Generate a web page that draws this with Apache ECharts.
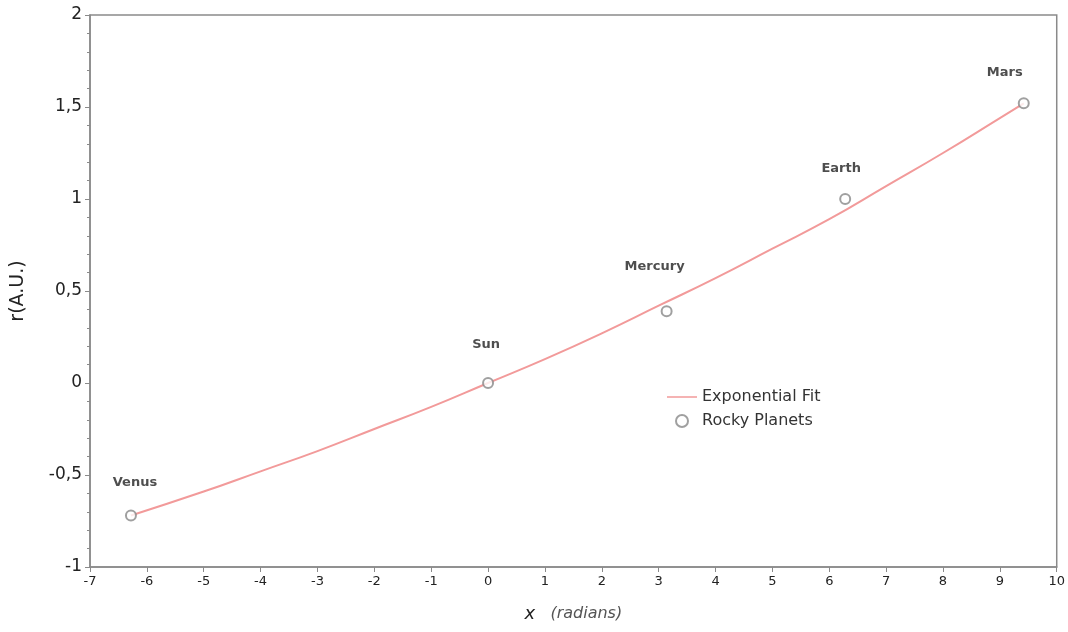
<!DOCTYPE html>
<html><head><meta charset="utf-8">
<script src="https://cdn.jsdelivr.net/npm/echarts@6/dist/echarts.min.js"></script>
<style>html,body{margin:0;padding:0;background:#fff}#c{width:1068px;height:632px}</style>
</head><body><div id="c"></div>
<script>
// Data
const planetNames = ['Venus', 'Sun', 'Mercury', 'Earth', 'Mars'];
const planetX = [-6.28, 0, 3.14, 6.28, 9.42];
const planetR = [-0.72, 0, 0.39, 1.0, 1.52];
const fitX = [-6.28, -5, -4, -3, -2, -1, 0, 1, 2, 3, 4, 5, 6, 7, 8, 9, 9.42];
const fitR = [-0.72, -0.59, -0.48, -0.37, -0.25, -0.13, 0, 0.13, 0.27, 0.42, 0.57, 0.73, 0.89, 1.07, 1.25, 1.44, 1.52];
const xTicks = [-7, -6, -5, -4, -3, -2, -1, 0, 1, 2, 3, 4, 5, 6, 7, 8, 9, 10];
const yTicks = [-1, -0.5, 0, 0.5, 1, 1.5, 2];

// label layout (style only)
const labelShift = {Venus: [4, -8], Sun: [-2, -14], Mercury: [-12, -20], Earth: [-4, -6], Mars: [-19, -6]};

const font = 'DejaVu Sans';
const chart = echarts.init(document.getElementById('c'));
chart.setOption({
  animation: false,
  textStyle: {fontFamily: font},
  grid: {left: 90, right: 11, top: 15, bottom: 65, show: true, borderColor: '#8a8a8a', borderWidth: 1.5},
  legend: {
    orient: 'vertical', left: 662, top: 384, itemGap: 8, itemWidth: 30, itemHeight: 12,
    textStyle: {fontSize: 16, color: '#333', fontFamily: font},
    data: [
      {name: 'Exponential Fit', icon: 'path://M0,0L0.01,0L0.01,0.01Z M0,5.2L30,5.2L30,6.8L0,6.8Z M0,11.99L0.01,11.99L0.01,12Z'},
      {name: 'Rocky Planets', icon: 'emptyCircle'}
    ]
  },
  xAxis: {
    type: 'value', min: xTicks[0], max: xTicks[xTicks.length - 1], interval: 1,
    axisLine: {onZero: false, lineStyle: {color: '#8a8a8a', width: 1.5}},
    axisTick: {show: true, length: 5, lineStyle: {color: '#8a8a8a'}},
    splitLine: {show: false},
    axisLabel: {color: '#222', fontSize: 13, margin: 8},
    name: '{x|x}    {r|(radians)}', nameLocation: 'middle', nameGap: 38,
    nameTextStyle: {rich: {
      x: {fontSize: 18, fontStyle: 'italic', color: '#222', fontFamily: font},
      r: {fontSize: 16, fontStyle: 'italic', color: '#555', fontFamily: font}
    }}
  },
  yAxis: {
    type: 'value', min: yTicks[0], max: yTicks[yTicks.length - 1], interval: 0.5,
    axisLine: {show: true, onZero: false, lineStyle: {color: '#8a8a8a', width: 1.5}},
    axisTick: {show: true, length: 5, lineStyle: {color: '#8a8a8a'}},
    minorTick: {show: true, splitNumber: 5, length: 3, lineStyle: {color: '#8a8a8a'}},
    splitLine: {show: false},
    axisLabel: {color: '#222', fontSize: 17, margin: 8, formatter: v => String(v).replace('.', ',')},
    name: 'r(A.U.)', nameLocation: 'middle', nameGap: 62, nameRotate: 90,
    nameTextStyle: {fontSize: 19, color: '#222', fontFamily: font}
  },
  series: [
    {
      name: 'Exponential Fit', type: 'line', smooth: true, symbol: 'none',
      lineStyle: {color: '#f29a9a', width: 2}, itemStyle: {color: '#f29a9a'},
      data: fitX.map((x, i) => [x, fitR[i]]), z: 2
    },
    {
      name: 'Rocky Planets', type: 'scatter', symbol: 'emptyCircle', symbolSize: 10,
      itemStyle: {color: '#888', borderColor: '#888', borderWidth: 1.5},
      data: planetX.map((x, i) => ({
        value: [x, planetR[i]], name: planetNames[i],
        label: {offset: labelShift[planetNames[i]]}
      })),
      label: {show: true, position: 'top', distance: 12, formatter: p => p.name, color: '#222', fontSize: 13, fontWeight: 'bold', fontFamily: font},
      z: 3
    }
  ]
});
</script></body></html>
